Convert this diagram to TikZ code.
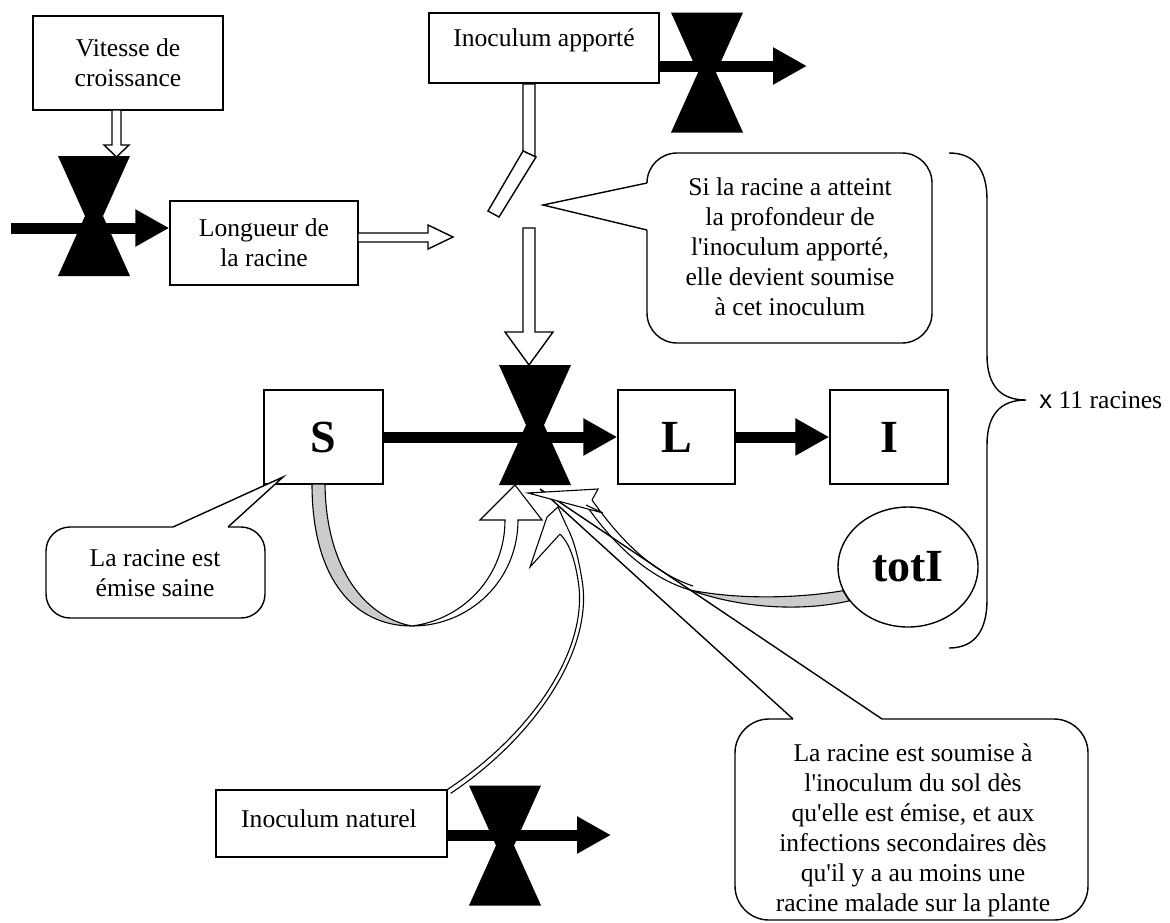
\documentclass[tikz,border=0pt]{standalone}
\usepackage{fontspec}
\setmainfont{Liberation Serif}[Ligatures=TeXOff]
\newfontfamily\sansx{Liberation Sans}
\usetikzlibrary{arrows.meta,shapes.geometric}
\begin{document}
\begin{tikzpicture}[x=0.5pt,y=-0.5pt,
  txt/.style={font=\fontsize{12.8}{15}\selectfont, align=center, inner sep=0pt},
  box/.style={txt, draw, line width=0.7pt, fill=white},
  bigbox/.style={draw, line width=0.7pt, fill=white, inner sep=0pt, font=\fontsize{23}{26}\bfseries\selectfont},
  callbox/.style={draw, line width=0.7pt, fill=white, rounded corners=15pt, inner sep=0pt},
  flow/.style={line width=5.5pt, -{Triangle[length=17pt,width=17.5pt]}},
  hollow/.style={draw, line width=0.7pt, fill=white, line join=miter},
  thinline/.style={line width=0.55pt},
  valve/.pic={\fill (-36,-60) -- (36,-60) -- (9,0) -- (36,60) -- (-36,60) -- (-9,0) -- cycle;}
]
\useasboundingbox (0,0) rectangle (1170,922);

% ---------- boxes ----------
\node[box, minimum width=95pt, minimum height=47pt] (vit) at (128,63) {Vitesse de\\croissance};
\node[box, minimum width=94pt, minimum height=42pt] (lon) at (264,243) {Longueur de\\la racine};
\node[box, minimum width=115pt, minimum height=35pt] (inoc) at (544,48) {};
\node[txt] (inoctxt) at (544,40) {Inoculum apporté};
\node[box, minimum width=115.5pt, minimum height=33.5pt] (nat) at (331.5,823.5) {};
\node[txt] (nattxt) at (329,819) {Inoculum naturel};
\node[bigbox, minimum width=59.5pt, minimum height=47pt] (S) at (323.5,437) {S};
\node[bigbox, minimum width=58.5pt, minimum height=47pt] (L) at (676.5,437) {L};
\node[bigbox, minimum width=59pt, minimum height=47pt] (I) at (889,437) {I};
\node[bigbox, ellipse, minimum width=70pt, minimum height=60pt] (totI) at (908,567) {totI};

% ---------- flows ----------
\coordinate (in1) at (11,228);
\draw[flow] (in1) -- (in1 -| lon.west);
\draw[flow] (S.east) -- (L.west);
\draw[flow] (L.east) -- (I.west);
\coordinate (out2) at (807,66);
\draw[flow] (out2 -| inoc.east) -- (out2);
\coordinate (out4) at (611,835);
\draw[flow] (out4 -| nat.east) -- (out4);

% ---------- valves ----------
\pic (v1) at (94,216) {valve};
\pic (v2) at (707,72.5) {valve};
\pic (v3) at (535,425) {valve};
\pic (v4) at (505,845.5) {valve};

% ---------- hollow arrows ----------
\draw[hollow] (112,110) -- (112,145) -- (104,145) -- (116.5,157) -- (129,145) -- (121,145) -- (121,110) -- cycle;
\draw[hollow] (358,233) -- (428,233) -- (428,225) -- (453,237) -- (428,249) -- (428,242) -- (358,242) -- cycle;
\draw[hollow] (523,84) -- (535,84) -- (535,157) -- (523,151) -- cycle;
\draw[hollow] (523,151) -- (536,157) -- (499,217) -- (488,211) -- cycle;
\draw[hollow] (523,228) -- (523,332) -- (505,332) -- (529,365) -- (553,332) -- (535,332) -- (535,228) -- cycle;

% ---------- callout: Si la racine ----------
\node[callbox, minimum width=142.5pt, minimum height=95pt] (csi) at (789.5,248) {};
\fill[white] (647,183) -- (543,205) -- (647,230) -- (652,230) -- (652,183) -- cycle;
\draw[line width=0.7pt] (647,183) -- (543,205) -- (647,230);
\node[txt] (csitxt) at (790,247) {Si la racine a atteint\\la profondeur de\\l'inoculum apporté,\\elle devient soumise\\à cet inoculum};

% ---------- callout: émise saine ----------
\node[callbox, rounded corners=12pt, minimum width=109.5pt, minimum height=45.5pt] (csa) at (155.5,572.5) {};
\fill[white] (173,527) -- (283,477) -- (228,527) -- (228,532) -- (173,532) -- cycle;
\draw[line width=0.7pt] (173,527) -- (283,477) -- (228,527);
\node[txt] (csatxt) at (155,573) {La racine est\\émise saine};

% ---------- curved arrow S -> valve ----------
\draw[thinline, fill=black!20] (312,484) .. controls (312,580) and (355,626) .. (412,626)
   .. controls (368,618) and (326,572) .. (325,484) -- cycle;
\draw[thinline, fill=white, line join=miter] (412,626) .. controls (470,626) and (518,580) .. (518,520)
   -- (542,520) -- (515,485) -- (480,520) -- (505,520)
   .. controls (505,575) and (465,619) .. (412,626) -- cycle;

% ---------- bottom callout ----------
\node[callbox, rounded corners=17pt, minimum width=176.5pt, minimum height=100.5pt] (cbot) at (911.5,819.5) {};
\fill[white] (793,719) -- (540,489) -- (882,719) -- (882,724) -- (793,724) -- cycle;
\draw[line width=0.7pt] (793,719) -- (540,489) -- (882,719);
\node[txt] (cbottxt) at (913,830) {La racine est soumise à\\l'inoculum du sol dès\\qu'elle est émise, et aux\\infections secondaires dès\\qu'il y a au moins une\\racine malade sur la plante};

% ---------- curved arrow Inoculum naturel -> valve ----------
\draw[thinline] (nat.north east) .. controls (530,735) and (590,650) .. (578,580)
   .. controls (574,555) and (568,542) .. (560,534);
\draw[thinline] ([xshift=1.5pt,yshift=-2pt]nat.north east) .. controls (534,738) and (594,650) .. (582,580)
   .. controls (578,555) and (573,538) .. (567,527);
\draw[thinline, fill=white, line join=miter] (560,534) -- (530,567) -- (547,517) -- (558,507) -- (567,527);

% ---------- curved arrow totI -> valve ----------
\draw[thinline, fill=black!20] (totI.210) .. controls (800,612) and (740,608) .. (690,590)
   .. controls (740,600) and (800,598) .. (totI.200) -- cycle;
\draw[thinline] (690,590) .. controls (640,575) and (605,532) .. (586,505);
\draw[thinline] (693,586) .. controls (645,570) and (612,528) .. (592,500);
\draw[thinline, fill=white, line join=miter] (586,505) -- (603,513) -- (528,493) -- (598,489) -- (592,500);

% ---------- brace ----------
\draw[line width=0.7pt] (949,153) .. controls (975,153) and (987,170) .. (987,200) -- (987,355)
  .. controls (987,385) and (1000,400) .. (1026,400)
  .. controls (1000,400) and (987,415) .. (987,445) -- (987,600)
  .. controls (987,630) and (975,648) .. (949,648);
\node[txt, anchor=west] (mult) at (1039,400) {{\sansx x} 11 racines};
\end{tikzpicture}
\end{document}
